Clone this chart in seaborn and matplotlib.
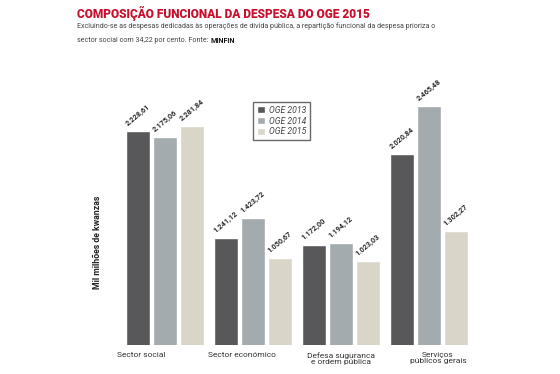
import matplotlib
matplotlib.use("Agg")
import matplotlib.pyplot as plt
import matplotlib.transforms as mtransforms
import seaborn as sns
import pandas as pd

categories = ["Sector social", "Sector económico", "Defesa suguranca\ne ordem pública", "Serviços\npúblicos gerais"]
series = ["OGE 2013", "OGE 2014", "OGE 2015"]
oge2013 = [2228.61, 1241.12, 1172.00, 2020.84]
oge2014 = [2175.06, 1423.72, 1194.12, 2465.48]
oge2015 = [2281.84, 1050.67, 1023.03, 1302.27]
title = "COMPOSIÇÃO FUNCIONAL DA DESPESA DO OGE 2015"
subtitle1 = "Excluindo-se as despesas dedicadas às operações de dívida pública, a repartição funcional da despesa prioriza o"
subtitle2 = "sector social com 34,22 por cento. Fonte: "
source = "MINFIN"
ylabel = "Mil milhões de kwanzas"

rows = []
for s, vals in zip(series, [oge2013, oge2014, oge2015]):
    for c, v in zip(categories, vals):
        rows.append({"cat": c, "serie": s, "valor": v})
df = pd.DataFrame(rows)

sns.set_theme(style="white")
FONT = ["Roboto", "DejaVu Sans"]
plt.rcParams["font.family"] = FONT

colors = ["#58585a", "#a4abae", "#d9d5c9"]
W, H = 560, 374
fig = plt.figure(figsize=(W / 100, H / 100), dpi=100)
ax = fig.add_axes([100 / W, (H - 345) / H, 390 / W, 265 / H])

sns.barplot(data=df, x="cat", y="valor", hue="serie", palette=colors,
            width=0.92, gap=0.11, ax=ax, legend=True, saturation=1)

ax.set_ylim(242, 2707)
ax.set_xlim((100 - 165) / 88, (490 - 165) / 88)
for sp in ax.spines.values():
    sp.set_visible(False)
ax.set_yticks([])
ax.set_xlabel("")
ax.set_ylabel("")
ax.tick_params(axis="x", length=0, pad=5, labelsize=6, labelcolor="#333333")

offsets = [-24, -11, 0, 9]
for lab, off in zip(ax.get_xticklabels(), offsets):
    lab.set_transform(lab.get_transform() + mtransforms.ScaledTranslation(off / 100, 0, fig.dpi_scale_trans))
    lab.set_linespacing(1.0)

def fmt(v):
    s = f"{v:,.2f}"
    return s.replace(",", "X").replace(".", ",").replace("X", ".")

for cont in ax.containers:
    for bar in cont:
        h = bar.get_height()
        ax.annotate(fmt(h), xy=(bar.get_x(), h), xytext=(2, 2.5), textcoords="offset points",
                    rotation=40, rotation_mode="anchor", ha="left", va="bottom",
                    fontsize=5.3, fontweight="bold", color="#2a2a2a")

leg = ax.legend(loc="upper left", bbox_to_anchor=(253 / W, 1 - 102 / H),
                bbox_transform=fig.transFigure, frameon=True, fancybox=False,
                prop={"style": "italic", "size": 6.2}, handlelength=0.9, handleheight=0.9,
                handletextpad=0.5, borderpad=0.45, labelspacing=0.2, borderaxespad=0,
                title=None)
leg.get_frame().set_edgecolor("#444444")
leg.get_frame().set_linewidth(1.0)
for t in leg.get_texts():
    t.set_color("#444444")

fig.text(97 / W, 1 - 242 / H, ylabel, rotation=90, ha="center", va="center",
         fontsize=6.3, fontweight="bold", color="#222222")

fig.text(77 / W, 1 - 6 / H, title, ha="left", va="top", fontsize=8.6,
         fontweight="heavy", color="#c8102e")
fig.text(77 / W, 1 - 22 / H, subtitle1, ha="left", va="top", fontsize=5.1, color="#444444")
t2 = fig.text(77 / W, 1 - 37 / H, subtitle2, ha="left", va="top", fontsize=5.1, color="#444444")
fig.canvas.draw()
bb = t2.get_window_extent()
fig.text(bb.x1 / W, 1 - 37 / H, source, ha="left", va="top", fontsize=5.1,
         fontweight="bold", color="#111111")

fig.savefig("out.png", dpi=100)
